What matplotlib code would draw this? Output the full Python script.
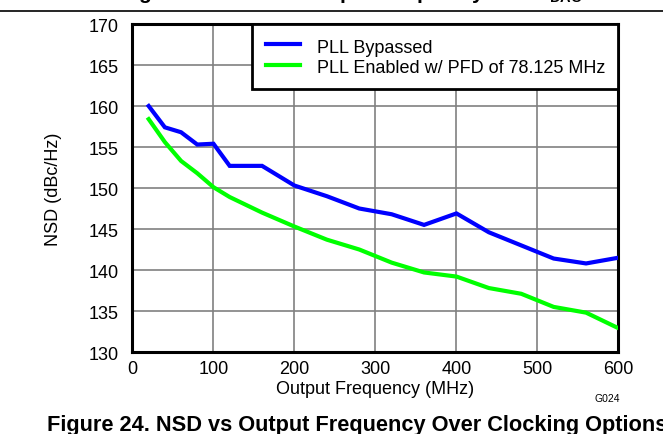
import numpy as np
import matplotlib
matplotlib.use('Agg')
import matplotlib.pyplot as plt
from matplotlib.lines import Line2D
from matplotlib.legend_handler import HandlerLine2D

plt.rcParams['font.family'] = ['Liberation Sans', 'DejaVu Sans']

# output frequency (MHz)
freq = [20, 40, 60, 80, 100, 120, 160, 200, 240, 280, 320, 360, 400,
        440, 480, 520, 560, 600]
nsd_bypass = [160.0, 157.4, 156.8, 155.3, 155.4, 152.7, 152.7, 150.3, 149.0,
              147.5, 146.8, 145.5, 146.9, 144.6, 143.0, 141.4, 140.8, 141.5]

freq_pll = [20, 40, 60, 80, 100, 120, 160, 200, 240, 280, 320, 360, 400,
            440, 480, 520, 560, 600]
nsd_pll = [158.4, 155.6, 153.3, 151.8, 150.1, 148.9, 147.0, 145.3, 143.7,
           142.5, 140.9, 139.7, 139.2, 137.8, 137.1, 135.5, 134.8, 132.9]

labels = ['PLL Bypassed', 'PLL Enabled w/ PFD of 78.125 MHz']
x_ticks = np.arange(0, 601, 100)
y_ticks = np.arange(130, 171, 5)


class InsetLine(HandlerLine2D):
    # legend line drawn only on the right part of the handle box
    def get_xdata(self, legend, xdescent, ydescent, width, height, fontsize):
        xs = np.array([-xdescent + 0.06 * width, -xdescent + width])
        return xs, xs


fig = plt.figure(figsize=(6.63, 4.35), dpi=100)
ax = fig.add_axes([0.1998, 0.1885, 0.733, 0.754])

ax.plot(freq, nsd_bypass, color='#0000ff', lw=3, label=labels[0],
        solid_joinstyle='miter', zorder=3)
ax.plot(freq_pll, nsd_pll, color='#00ff00', lw=3, label=labels[1],
        solid_joinstyle='miter', zorder=3)

ax.set_xlim(0, 600)
ax.set_ylim(130, 170)
ax.set_xticks(x_ticks)
ax.set_yticks(y_ticks)
ax.tick_params(length=0, labelsize=13, colors='black')
ax.tick_params(axis='y', pad=10)
ax.tick_params(axis='x', pad=6)
ax.grid(True, color='#808080', lw=1.2)
for s in ax.spines.values():
    s.set_linewidth(2.2)
    s.set_color('black')

ax.set_xlabel('Output Frequency (MHz)', fontsize=13, labelpad=2)
ax.set_ylabel('NSD (dBc/Hz)', fontsize=13, labelpad=19)

leg = ax.legend(loc='upper right', fontsize=13.0, borderaxespad=0,
                handlelength=2.0, handleheight=1.2, handletextpad=0.95,
                borderpad=0.7, labelspacing=0.05, fancybox=False,
                framealpha=1, edgecolor='black',
                handler_map={Line2D: InsetLine()})
leg.get_frame().set_linewidth(2)

fig.text(0.935, 0.075, 'G024', fontsize=7.5, ha='right')
fig.text(0.071, 0.01, 'Figure 24. NSD vs Output Frequency Over Clocking Options',
         fontsize=15.7, fontweight='bold', ha='left', va='baseline')

# clipped caption of the figure above and the page rule
fig.add_artist(Line2D([0, 1], [1 - 12 / 435, 1 - 12 / 435], color='black', lw=1.2))
fig.text(0.53, 1.003, 'Figure 23. NSD vs Output Frequency Over f$_{\\mathregular{DAC}}$',
         fontsize=15, fontweight='bold', ha='center', va='baseline')

fig.savefig('out.png', dpi=100)
